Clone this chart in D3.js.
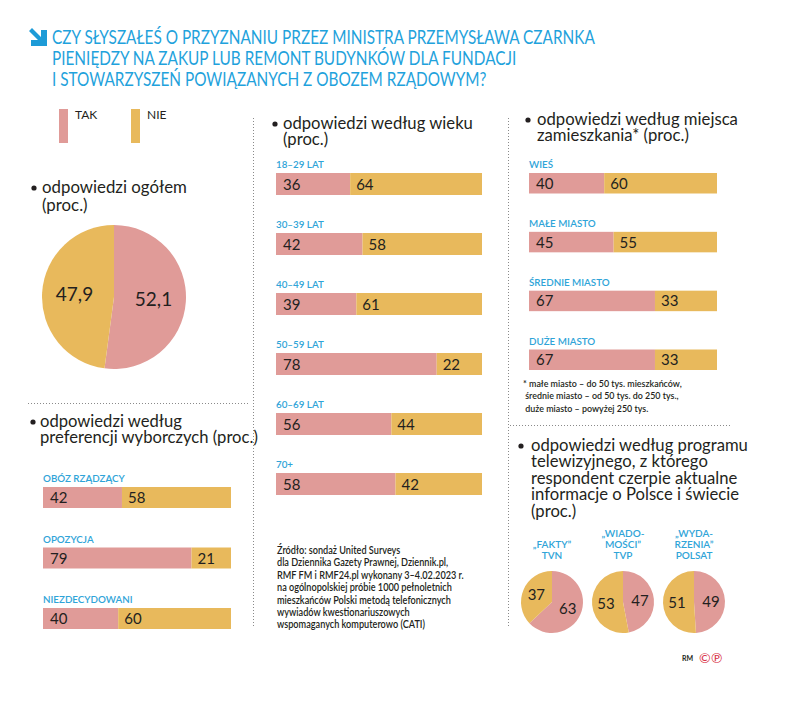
<!DOCTYPE html>
<html>
<head>
<meta charset="utf-8">
<script src="https://cdn.jsdelivr.net/npm/d3@7"></script>
<style>
  body { margin: 0; background: #fff; }
  svg { display: block; }
  text { font-family: Lato, "Open Sans", sans-serif; }
</style>
</head>
<body>
<svg id="chart" width="788" height="702"></svg>
<script>
// ---- data ----
var titleLines = [
    "CZY SŁYSZAŁEŚ O PRZYZNANIU PRZEZ MINISTRA PRZEMYSŁAWA CZARNKA",
    "PIENIĘDZY NA ZAKUP LUB REMONT BUDYNKÓW DLA FUNDACJI",
    "I STOWARZYSZEŃ POWIĄZANYCH Z OBOZEM RZĄDOWYM?"
];
var legendLabels = ["TAK", "NIE"];

var totalValues = [52.1, 47.9];

var prefCategories = ["OBÓZ RZĄDZĄCY", "OPOZYCJA", "NIEZDECYDOWANI"];
var prefTak = [42, 79, 40];
var prefNie = [58, 21, 60];

var ageCategories = ["18–29 LAT", "30–39 LAT", "40–49 LAT", "50–59 LAT", "60–69 LAT", "70+"];
var ageTak = [36, 42, 39, 78, 56, 58];
var ageNie = [64, 58, 61, 22, 44, 42];

var placeCategories = ["WIEŚ", "MAŁE MIASTO", "ŚREDNIE MIASTO", "DUŻE MIASTO"];
var placeTak = [40, 45, 67, 67];
var placeNie = [60, 55, 33, 33];

var tvCategories = [["„FAKTY”", "TVN"], ["„WIADO-", "MOŚCI”", "TVP"], ["„WYDA-", "RZENIA”", "POLSAT"]];
var tvTak = [63, 47, 49];
var tvNie = [37, 53, 51];

var sourceLines = [
    "Źródło: sondaż United Surveys",
    "dla Dziennika Gazety Prawnej, Dziennik.pl,",
    "RMF FM i RMF24.pl wykonany 3–4.02.2023 r.",
    "na ogólnopolskiej próbie 1000 pełnoletnich",
    "mieszkańców Polski metodą telefonicznych",
    "wywiadów kwestionariuszowych",
    "wspomaganych komputerowo (CATI)"
];
var footnoteLines = [
    "* małe miasto – do 50 tys. mieszkańców,",
    " średnie miasto – od 50 tys. do 250 tys.,",
    " duże miasto – powyżej 250 tys."
];

var PINK = '#e09b98', YELLOW = '#e8b95c', BLUE = '#2fa4d8', DARK = '#231f20';
var plFormat = d3.formatLocale({decimal: ",", thousands: " ", grouping: [3], currency: ["", " zł"]}).format(".1f");

var svg = d3.select('#chart');

// ---- title ----
svg.append('path')
    .attr('d', 'M29,31 L32,28 L41,37 L41,30 L47,30 L47,46 L31,46 L31,40 L38,40 Z')
    .attr('fill', '#1d9bd7');

var title = svg.append('g');
title.selectAll('text')
    .data(titleLines)
    .enter().append('text')
    .attr('x', 0)
    .attr('y', (d, i) => 44 + i * 21)
    .attr('fill', '#1fa2dc')
    .style('font-size', '19px')
    .text(d => d);
fitWidth(title, 52, 543);

// ---- legend ----
var legend = svg.append('g');
legend.selectAll('rect')
    .data(legendLabels)
    .enter().append('rect')
    .attr('x', (d, i) => 59 + i * 72)
    .attr('y', 109)
    .attr('width', 9)
    .attr('height', 34)
    .attr('fill', (d, i) => i === 0 ? PINK : YELLOW);
legend.selectAll('text')
    .data(legendLabels)
    .enter().append('text')
    .attr('x', (d, i) => 75 + i * 72)
    .attr('y', 119)
    .attr('fill', DARK)
    .style('font-size', '12px')
    .text(d => d);

// ---- dotted separators ----
function dotted(x1, y1, x2, y2) {
    svg.append('line')
        .attr('x1', x1).attr('y1', y1).attr('x2', x2).attr('y2', y2)
        .attr('stroke', '#8a8a8a')
        .attr('stroke-width', 1)
        .attr('stroke-dasharray', '1,2');
}
dotted(253.5, 118, 253.5, 628);
dotted(508.5, 118, 508.5, 628);
dotted(28, 403.5, 248, 403.5);
dotted(510, 425.5, 732, 425.5);

// ---- headings ----
function heading(lines, bx, tx, y0, lh, width, refLine) {
    svg.append('circle').attr('cx', bx).attr('cy', y0 - 5).attr('r', 2.6).attr('fill', DARK);
    var g = svg.append('g');
    g.selectAll('text')
        .data(lines)
        .enter().append('text')
        .attr('x', 0)
        .attr('y', (d, i) => y0 + i * lh)
        .attr('fill', DARK)
        .style('font-size', '16.5px')
        .text(d => d);
    fitWidth(g, tx, width, refLine);
}
heading(["odpowiedzi ogółem", "(proc.)"], 34, 42, 193, 18, 145, 0);
heading(["odpowiedzi według", "preferencji wyborczych (proc.)"], 33, 40, 427, 16.5, 218, 1);
heading(["odpowiedzi według wieku", "(proc.)"], 275, 283, 129, 16.5, 190, 0);
heading(["odpowiedzi według miejsca", "zamieszkania* (proc.)"], 528, 537, 125, 16.5, 201, 0);
heading(["odpowiedzi według programu", "telewizyjnego, z którego", "respondent czerpie aktualne",
    "informacje o Polsce i świecie", "(proc.)"], 521, 531, 451, 16.5, 217, 0);

// ---- stacked 100% bars ----
function barPanel(cats, tak, nie, x0, x1, top, bottom, barH) {
    var x = d3.scaleLinear().domain([0, 100]).range([x0, x1]);
    var n = cats.length;
    var step = (bottom - top - barH) / (n - 1);
    var y = d3.scaleBand()
        .domain(cats)
        .range([top, bottom])
        .paddingInner(1 - barH / step)
        .paddingOuter(0);
    var rows = cats.map((c, i) => ({cat: c, tak: tak[i], nie: nie[i]}));
    var g = svg.append('g');
    var row = g.selectAll('g.row')
        .data(rows)
        .enter().append('g').attr('class', 'row');

    row.append('text')
        .attr('x', x(0))
        .attr('y', d => y(d.cat) - 5)
        .attr('fill', BLUE)
        .style('font-size', '9.8px')
        .style('font-weight', 600)
        .text(d => d.cat);
    row.append('rect')
        .attr('x', x(0))
        .attr('y', d => y(d.cat))
        .attr('width', d => x(d.tak) - x(0))
        .attr('height', y.bandwidth())
        .attr('fill', PINK);
    row.append('rect')
        .attr('x', d => x(d.tak))
        .attr('y', d => y(d.cat))
        .attr('width', d => x(d.tak + d.nie) - x(d.tak))
        .attr('height', y.bandwidth())
        .attr('fill', YELLOW);
    row.append('text')
        .attr('x', x(0) + 7)
        .attr('y', d => y(d.cat) + y.bandwidth() / 2 + 5.5)
        .attr('fill', DARK)
        .style('font-size', '15px')
        .text(d => d.tak);
    row.append('text')
        .attr('x', d => x(d.tak) + 6)
        .attr('y', d => y(d.cat) + y.bandwidth() / 2 + 5.5)
        .attr('fill', DARK)
        .style('font-size', '15px')
        .text(d => d.nie);
}
barPanel(prefCategories, prefTak, prefNie, 43, 231, 487, 629, 21);
barPanel(ageCategories, ageTak, ageNie, 276, 482, 173, 495, 22);
barPanel(placeCategories, placeTak, placeNie, 529, 717, 173, 370, 20.5);

// ---- pies ----
function pieChart(values, cx, cy, r, fontSize, fmt) {
    var pie = d3.pie().sort(null)(values);
    var arc = d3.arc().innerRadius(0).outerRadius(r);
    var labelArc = d3.arc().innerRadius(r * 0.55).outerRadius(r * 0.55);
    var g = svg.append('g').attr('transform', 'translate(' + cx + ',' + cy + ')');
    g.selectAll('path')
        .data(pie)
        .enter().append('path')
        .attr('d', arc)
        .attr('fill', (d, i) => i === 0 ? PINK : YELLOW);
    g.selectAll('text')
        .data(pie)
        .enter().append('text')
        .attr('x', d => labelArc.centroid(d)[0])
        .attr('y', d => labelArc.centroid(d)[1] + fontSize * 0.35)
        .attr('text-anchor', 'middle')
        .attr('fill', DARK)
        .style('font-size', fontSize + 'px')
        .text(d => fmt(d.data));
}
pieChart(totalValues, 114, 297, 72, 19, plFormat);

var tvX = d3.scalePoint().domain(d3.range(tvCategories.length)).range([552, 694]);
tvCategories.forEach(function (lines, i) {
    pieChart([tvTak[i], tvNie[i]], tvX(i), 602, 31, 15, d => d);
    var n = lines.length;
    svg.append('g').selectAll('text')
        .data(lines)
        .enter().append('text')
        .attr('x', tvX(i))
        .attr('y', (d, j) => 559 - (n - 1 - j) * 11)
        .attr('text-anchor', 'middle')
        .attr('fill', BLUE)
        .style('font-size', '10px')
        .style('font-weight', 600)
        .text(d => d);
});

// ---- source + footnote ----
var source = svg.append('g');
source.selectAll('text')
    .data(sourceLines)
    .enter().append('text')
    .attr('x', 0)
    .attr('y', (d, i) => 554 + i * 12.4)
    .attr('fill', DARK)
    .style('font-size', '11px')
    .style('font-weight', 600)
    .text(d => d);
fitWidth(source, 277, 175, 3);

var foot = svg.append('g');
foot.selectAll('text')
    .data(footnoteLines)
    .enter().append('text')
    .attr('x', 0)
    .attr('y', (d, i) => 387 + i * 12.5)
    .attr('fill', DARK)
    .style('font-size', '10px')
    .style('font-weight', 600)
    .style('white-space', 'pre')
    .text(d => d);
fitWidth(foot, 523, 159);

svg.append('text')
    .attr('x', 682).attr('y', 661)
    .attr('fill', DARK)
    .style('font-size', '7px')
    .style('font-weight', 700)
    .text('RM');
svg.append('text')
    .attr('x', 699).attr('y', 663)
    .attr('fill', '#d9344a')
    .style('font-size', '14px')
    .text('©℗');

// squeeze a block of text lines horizontally so one line hits the wanted width
function fitWidth(g, x, width, lineIndex) {
    var nodes = g.selectAll('text').nodes();
    var w = nodes[lineIndex || 0].getComputedTextLength();
    g.attr('transform', 'translate(' + x + ',0) scale(' + (width / w) + ',1)');
}
</script>
</body>
</html>
